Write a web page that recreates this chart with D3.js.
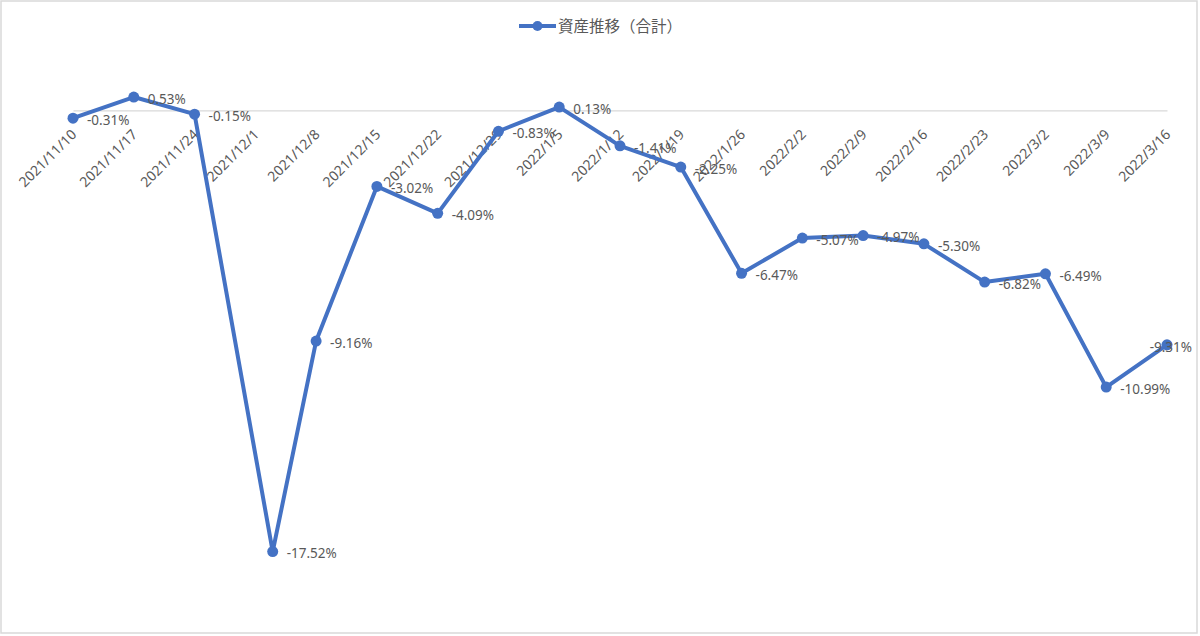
<!DOCTYPE html>
<html>
<head>
<meta charset="utf-8">
<script src="https://cdn.jsdelivr.net/npm/d3@7"></script>
<style>
  body { margin: 0; background: #fff; }
  svg text { font-family: 'Noto Sans', 'Noto Sans CJK JP', sans-serif; fill: #595959; }
  .legend-label { font-family: 'Noto Sans CJK JP', sans-serif; }
  .x-axis .domain { stroke: #d9d9d9; stroke-width: 1.2px; }
  .chart-line { fill: none; stroke: #4472c4; stroke-width: 4px; stroke-linejoin: round; }
  .point { fill: #4472c4; }
</style>
</head>
<body>
<svg id="chart"></svg>
<script>
// category (tick) labels on the date axis
const tickLabels = [
  '2021/11/10', '2021/11/17', '2021/11/24', '2021/12/1', '2021/12/8', '2021/12/15',
  '2021/12/22', '2021/12/29', '2022/1/5', '2022/1/12', '2022/1/19', '2022/1/26',
  '2022/2/2', '2022/2/9', '2022/2/16', '2022/2/23', '2022/3/2', '2022/3/9', '2022/3/16'
];

// dates of the data points (one falls between weekly ticks)
const pointDates = [
  '2021/11/10', '2021/11/17', '2021/11/24', '2021/12/3', '2021/12/8', '2021/12/15',
  '2021/12/22', '2021/12/29', '2022/1/5', '2022/1/12', '2022/1/19', '2022/1/26',
  '2022/2/2', '2022/2/9', '2022/2/16', '2022/2/23', '2022/3/2', '2022/3/9', '2022/3/16'
];

// asset change in %
const assetChange = [
  -0.31, 0.53, -0.15, -17.52, -9.16, -3.02,
  -4.09, -0.83, 0.13, -1.41, -2.25, -6.47,
  -5.07, -4.97, -5.30, -6.82, -6.49, -10.99, -9.31
];

const seriesName = '資産推移（合計）';
const yDomain = [-20, 2];

class Linechart {

  constructor(_config, _data) {
    this.config = {
      parentElement: _config.parentElement,
      containerWidth: _config.containerWidth || 1200,
      containerHeight: _config.containerHeight || 636,
      margin: _config.margin || {top: 60, right: 33, bottom: 22, left: 73}
    }
    this.data = _data;
    this.initVis();
  }

  initVis() {
    let vis = this;

    vis.width = vis.config.containerWidth - vis.config.margin.left - vis.config.margin.right;
    vis.height = vis.config.containerHeight - vis.config.margin.top - vis.config.margin.bottom;

    vis.xScale = d3.scaleUtc()
        .range([0, vis.width]);

    vis.yScale = d3.scaleLinear()
        .range([vis.height, 0]);

    vis.svg = d3.select(vis.config.parentElement)
        .attr('width', vis.config.containerWidth)
        .attr('height', vis.config.containerHeight);

    // chart border
    vis.svg.append('rect')
        .attr('x', 1)
        .attr('y', 1)
        .attr('width', vis.config.containerWidth - 4)
        .attr('height', vis.config.containerHeight - 4)
        .attr('fill', '#fff')
        .attr('stroke', '#d9d9d9')
        .attr('stroke-width', 1.5);

    vis.chart = vis.svg.append('g')
        .attr('transform', `translate(${vis.config.margin.left},${vis.config.margin.top})`);

    vis.xAxisG = vis.chart.append('g')
        .attr('class', 'axis x-axis');

    vis.marks = vis.chart.append('g');
    vis.labels = vis.chart.append('g');

    // legend
    vis.legend = vis.svg.append('g')
        .attr('transform', 'translate(519,26)');

    vis.legend.append('line')
        .attr('x1', 0)
        .attr('x2', 37)
        .attr('stroke', '#4472c4')
        .attr('stroke-width', 4);

    vis.legend.append('circle')
        .attr('class', 'point')
        .attr('cx', 18.5)
        .attr('r', 5);

    vis.legend.append('text')
        .attr('class', 'legend-label')
        .attr('x', 39)
        .attr('dy', '0.36em')
        .style('font-size', '15.5px')
        .text(seriesName);
  }

  updateVis() {
    let vis = this;

    vis.xValue = d => d.date;
    vis.yValue = d => d.value;

    vis.line = d3.line()
        .x(d => vis.xScale(vis.xValue(d)))
        .y(d => vis.yScale(vis.yValue(d)));

    vis.tickDates = tickLabels.map(d => parseDate(d));
    vis.xScale.domain(d3.extent(vis.tickDates));
    vis.yScale.domain(yDomain);

    vis.xAxis = d3.axisBottom(vis.xScale)
        .tickValues(vis.tickDates)
        .tickSize(0)
        .tickSizeOuter(0)
        .tickFormat((d, i) => tickLabels[i]);

    vis.renderVis();
  }

  renderVis() {
    let vis = this;

    // x axis sits on the zero line
    vis.xAxisG
        .attr('transform', `translate(0,${vis.yScale(0)})`)
        .call(vis.xAxis);

    vis.xAxisG.selectAll('.tick text')
        .attr('x', 0)
        .attr('y', 0)
        .attr('dy', 0)
        .attr('transform', 'translate(4,25) rotate(-45)')
        .style('text-anchor', 'end')
        .style('font-size', '14px')
        .attr('fill', '#595959');

    vis.marks.selectAll('.chart-line')
        .data([vis.data])
      .join('path')
        .attr('class', 'chart-line')
        .attr('d', vis.line);

    vis.marks.selectAll('.point')
        .data(vis.data)
      .join('circle')
        .attr('class', 'point')
        .attr('cx', d => vis.xScale(vis.xValue(d)))
        .attr('cy', d => vis.yScale(vis.yValue(d)))
        .attr('r', 5.5);

    // data labels to the right of each point, kept inside the chart area
    const maxRight = vis.width + vis.config.margin.right - 8;
    vis.labels.selectAll('.data-label')
        .data(vis.data)
      .join('text')
        .attr('class', 'data-label')
        .attr('y', d => vis.yScale(vis.yValue(d)) + 2)
        .attr('dy', '0.35em')
        .style('font-size', '13.5px')
        .text(d => d.value.toFixed(2) + '%')
        .attr('x', function(d) {
          const x = vis.xScale(vis.xValue(d)) + 14;
          const w = this.getComputedTextLength();
          return x + w > maxRight ? maxRight - w : x;
        });
  }
}

const parseDate = d3.utcParse('%Y/%m/%d');

const data = pointDates.map((d, i) => ({date: parseDate(d), value: assetChange[i]}));

const linechart = new Linechart({parentElement: '#chart'}, data);
linechart.updateVis();
</script>
</body>
</html>
